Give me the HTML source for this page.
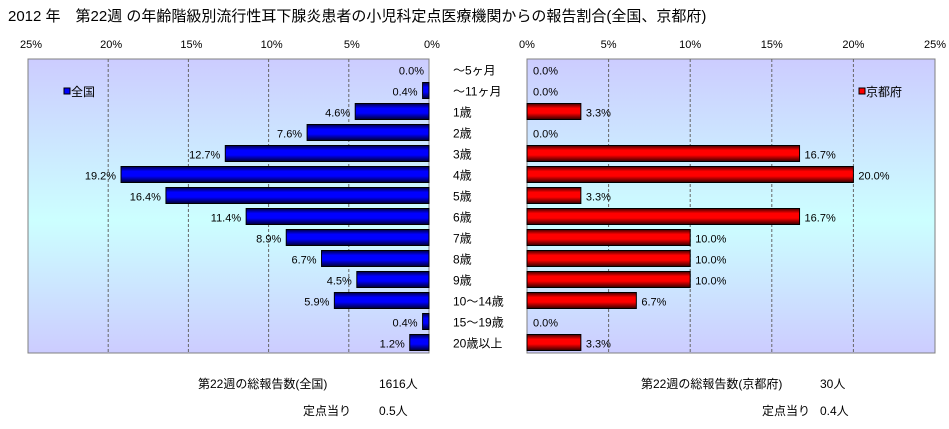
<!DOCTYPE html>
<html><head><meta charset="utf-8">
<style>
body{margin:0;background:#fff;}
svg text{font-family:"Liberation Sans","Noto Sans CJK JP",sans-serif;}
</style></head>
<body>
<svg id="c" width="949" height="424" xmlns="http://www.w3.org/2000/svg">
<defs>
<linearGradient id="bg" x1="0" y1="0" x2="0" y2="1">
<stop offset="0" stop-color="#ccccff"/><stop offset="0.55" stop-color="#ccffff"/><stop offset="1" stop-color="#ccccff"/>
</linearGradient>
<linearGradient id="blue" x1="0" y1="0" x2="0" y2="1">
<stop offset="0" stop-color="#000044"/><stop offset="0.3" stop-color="#0000ff"/><stop offset="0.6" stop-color="#0000ff"/><stop offset="1" stop-color="#000033"/>
</linearGradient>
<linearGradient id="red" x1="0" y1="0" x2="0" y2="1">
<stop offset="0" stop-color="#440000"/><stop offset="0.3" stop-color="#ff0000"/><stop offset="0.6" stop-color="#ff0000"/><stop offset="1" stop-color="#330000"/>
</linearGradient>
</defs>
<text x="8" y="21" font-size="15">2012 年　第22週 の年齢階級別流行性耳下腺炎患者の小児科定点医療機関からの報告割合(全国、京都府)</text>
<g id="g"></g>
<text x="198" y="388" font-size="12">第22週の総報告数(全国)</text>
<text x="379" y="388" font-size="12">1616人</text>
<text x="303" y="415" font-size="12">定点当り</text>
<text x="379" y="415" font-size="12">0.5人</text>
<text x="641" y="388" font-size="12">第22週の総報告数(京都府)</text>
<text x="820" y="388" font-size="12">30人</text>
<text x="762" y="415" font-size="12">定点当り</text>
<text x="820" y="415" font-size="12">0.4人</text>
</svg>
<script>
const categories=["～5ヶ月","～11ヶ月","1歳","2歳","3歳","4歳","5歳","6歳","7歳","8歳","9歳","10～14歳","15～19歳","20歳以上"];
const nationalValues=[0.0,0.4,4.6,7.6,12.7,19.2,16.4,11.4,8.9,6.7,4.5,5.9,0.4,1.2];
const kyotoValues=[0.0,0.0,3.3,0.0,16.7,20.0,3.3,16.7,10.0,10.0,10.0,6.7,0.0,3.3];
const tickValues=[0,5,10,15,20,25];
const tickLabels=["0%","5%","10%","15%","20%","25%"];
const maxV=25;
const NS="http://www.w3.org/2000/svg";
const g=document.getElementById('g');
const plotTop=59,plotBottom=353;
const rowH=(plotBottom-plotTop)/categories.length;
const yC=i=>plotTop+rowH*(i+0.5);
const L={x0:429,x1:28};
const R={x0:527,x1:935};
const xl=v=>L.x0-(L.x0-L.x1)*v/maxV;
const xr=v=>R.x0+(R.x1-R.x0)*v/maxV;
function mk(t,a,p){const el=document.createElementNS(NS,t);for(const k in a)el.setAttribute(k,a[k]);(p||g).appendChild(el);return el;}
let e;
e=mk('rect',{x:L.x1,y:plotTop,width:L.x0-L.x1,height:plotBottom-plotTop,fill:'url(#bg)',stroke:'#808080'});


e=mk('rect',{x:R.x0,y:plotTop,width:R.x1-R.x0,height:plotBottom-plotTop,fill:'url(#bg)',stroke:'#808080'});


tickValues.forEach((v,i)=>{
  if(v>0&&v<maxV){
    e=mk('line',{x1:xl(v),x2:xl(v),y1:plotTop,y2:plotBottom,stroke:'#666','stroke-dasharray':'3,2'});
    
    
    e=mk('line',{x1:xr(v),x2:xr(v),y1:plotTop,y2:plotBottom,stroke:'#666','stroke-dasharray':'3,2'});
    
    
  }
  e=mk('text',{x:xl(v)+3,y:48,'font-size':11,'text-anchor':'middle'});e.textContent=tickLabels[i];
  
  
  e=mk('text',{x:xr(v),y:48,'font-size':11,'text-anchor':'middle'});e.textContent=tickLabels[i];
  
  
});
categories.forEach((c,i)=>{
  const y=yC(i);
  e=mk('text',{x:453,y:y+5,'font-size':12});e.textContent=c;
  
  
  const nv=nationalValues[i];
  if(nv>0){
    e=mk('rect',{x:xl(nv),y:y-8,width:L.x0-xl(nv),height:16,fill:'url(#blue)',stroke:'#000'});
    
    
  }
  e=mk('text',{x:xl(nv)-5,y:y+5,'font-size':11,'text-anchor':'end'});e.textContent=nv.toFixed(1)+'%';
  
  
  const kv=kyotoValues[i];
  if(kv>0){
    e=mk('rect',{x:R.x0,y:y-8,width:xr(kv)-R.x0,height:16,fill:'url(#red)',stroke:'#000'});
    
    
  }
  e=mk('text',{x:xr(kv)+(kv>0?5:6),y:y+5,'font-size':11});e.textContent=kv.toFixed(1)+'%';
  
  
});
e=mk('rect',{x:64,y:88,width:6,height:6,fill:'#0000ff',stroke:'#000'});


e=mk('text',{x:71,y:96,'font-size':12});e.textContent='全国';


e=mk('rect',{x:859,y:88,width:6,height:6,fill:'#ff0000',stroke:'#000'});


e=mk('text',{x:866,y:96,'font-size':12});e.textContent='京都府';


</script>
</body></html>
